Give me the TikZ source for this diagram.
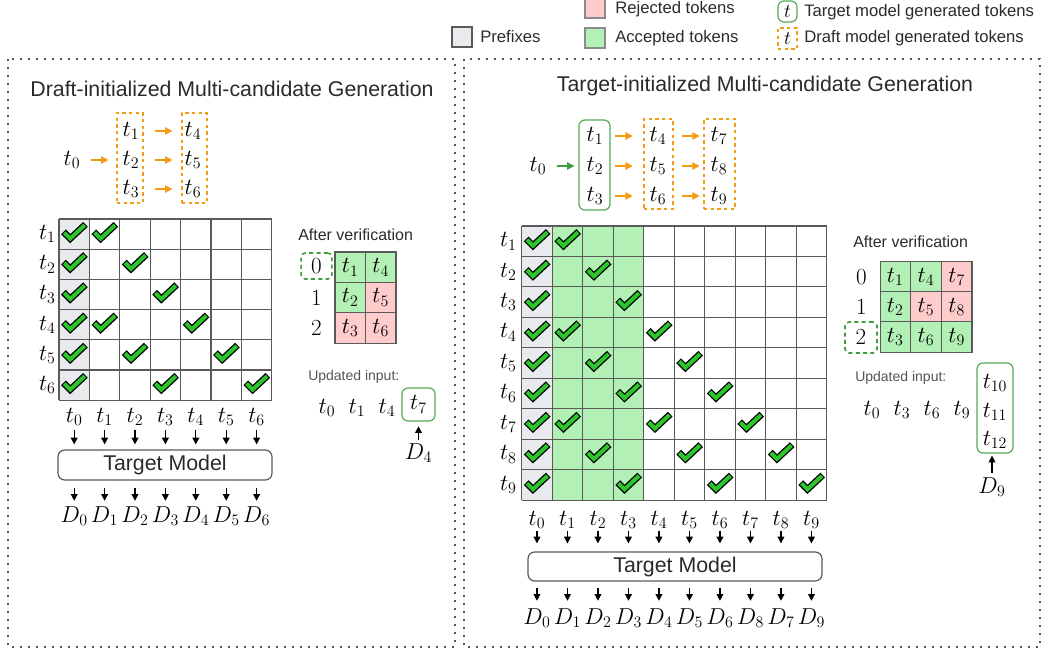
\documentclass[tikz,border=0pt]{standalone}
\usepackage[no-math]{fontspec}
\setmainfont{Liberation Sans}
\usetikzlibrary{arrows.meta,calc}
\definecolor{pref}{HTML}{E8EAED}
\definecolor{accg}{HTML}{B3F0B6}
\definecolor{rejp}{HTML}{FFCCCC}
\definecolor{chkg}{HTML}{2CC62C}
\definecolor{gline}{HTML}{5A5A5A}
\definecolor{orng}{HTML}{F39C12}
\definecolor{gbord}{HTML}{55AA55}
\definecolor{dgreen}{HTML}{3C9E3C}
\definecolor{pgray}{HTML}{555555}
\definecolor{ttext}{HTML}{2A2A2A}
\definecolor{ltext}{HTML}{555555}
\newcommand\mathsz{\fontsize{18}{21}\selectfont}
\begin{document}
\begin{tikzpicture}[x=0.75pt,y=-0.75pt,
  tok/.style={font=\mathsz, inner sep=0pt},
  oarr/.style={draw=orng, line width=1.1pt, -{Triangle[length=5.5pt,width=5.5pt]}},
  garr/.style={draw=dgreen, line width=1.1pt, -{Triangle[length=5.5pt,width=5.5pt]}},
  barr/.style={draw=black, line width=1pt, -{Triangle[length=5pt,width=5pt]}},
  obox/.style={draw=orng, line width=1.1pt, dash pattern=on 2.5pt off 2.5pt, inner sep=0pt},
  gbox/.style={draw=gbord, line width=0.9pt, rounded corners=4.5pt, inner sep=0pt},
  dgbox/.style={draw=dgreen, line width=1.2pt, dash pattern=on 3pt off 2.5pt, rounded corners=3pt, inner sep=0pt},
  panel/.style={draw=pgray, line width=1.1pt, dash pattern=on 1.8pt off 4.2pt},
  tmbox/.style={draw=gline, line width=0.9pt, rounded corners=5pt, font=\fontsize{16}{19}\selectfont, text=ttext},
  ttl/.style={font=\fontsize{16}{19}\selectfont, text=ttext},
  lgtxt/.style={font=\fontsize{12.5}{15}\selectfont, text=ttext, anchor=west, inner sep=0pt},
  avtxt/.style={font=\fontsize{12}{14}\selectfont, text=ttext, anchor=west, inner sep=0pt},
  uptxt/.style={font=\fontsize{10.5}{13}\selectfont, text=ltext, anchor=west, inner sep=0pt},
  gl/.style={draw=gline, line width=0.8pt},
  cell/.style={draw=gline, line width=0.8pt, minimum width=22.9pt, minimum height=22.8pt, inner sep=0pt, font=\mathsz},
  chk/.pic={
    \draw[line width=5pt, black, line join=miter, shorten <=-0.8pt, shorten >=-0.8pt] (-10,-1.5) -- (-4,4.5) -- (10.5,-9);
    \draw[line width=3pt, chkg, line join=miter] (-10,-1.5) -- (-4,4.5) -- (10.5,-9);
  }]
\useasboundingbox (0,0) rectangle (1042,651);

% ---------- panels ----------
\draw[panel] (8,59) rectangle (455,647);
\draw[panel] (464,59) rectangle (1040,647);

% ---------- legend ----------
\node[draw=gline, fill=pref, line width=0.8pt, minimum size=15pt, inner sep=0pt] (lgP) at (462,37) {};
\node[lgtxt] (lgPt) at (480,37) {Prefixes};
\node[draw=gline!70, fill=rejp, line width=0.8pt, minimum size=15pt, inner sep=0pt] (lgR) at (595,8) {};
\node[lgtxt] (lgRt) at (615,9) {Rejected tokens};
\node[draw=gline!70, fill=accg, line width=0.8pt, minimum size=15pt, inner sep=0pt] (lgA) at (595,38) {};
\node[lgtxt] (lgAt) at (615,38) {Accepted tokens};
\node[gbox, minimum width=14.25pt, minimum height=15.75pt, font=\fontsize{14}{16}\selectfont] (lgT) at (787.5,11.5) {$t$};
\node[lgtxt] (lgTt) at (804,12) {Target model generated tokens};
\node[obox, minimum width=14.25pt, minimum height=15.75pt, font=\fontsize{14}{16}\selectfont] (lgD) at (787.5,38.5) {$t$};
\node[lgtxt] (lgDt) at (804,38) {Draft model generated tokens};

% ---------- left panel ----------
\node[ttl] (titleL) at (232,89) {Draft-initialized Multi-candidate Generation};

\node[tok] (a0) at (72,160) {$t_0$};
\node[obox, minimum width=19.5pt, minimum height=67.5pt] (ob1) at (130,158) {};
\node[obox, minimum width=18.75pt, minimum height=67.5pt] (ob2) at (194.5,158) {};
\node[tok] (a1) at (131,131) {$t_1$};
\node[tok] (a2) at (131,160) {$t_2$};
\node[tok] (a3) at (131,189) {$t_3$};
\node[tok] (a4) at (193,131) {$t_4$};
\node[tok] (a5) at (193,160) {$t_5$};
\node[tok] (a6) at (193,189) {$t_6$};
\draw[oarr, shorten <=8pt, shorten >=10.5pt] (a0) -- (a2);
\draw[oarr, shorten <=11.5pt, shorten >=9pt] (a1) -- (a4);
\draw[oarr, shorten <=11.5pt, shorten >=9pt] (a2) -- (a5);
\draw[oarr, shorten <=11.5pt, shorten >=9pt] (a3) -- (a6);

% grid left
\fill[pref] (59,219) rectangle (89.4,400.2);
\foreach \i in {0,...,7} \draw[gl] ({59+\i*30.4},219) -- ({59+\i*30.4},400.2);
\foreach \j in {0,...,6} \draw[gl] (59,{219+\j*30.2}) -- (271.8,{219+\j*30.2});
\foreach \r/\c in {1/0,1/1,2/0,2/2,3/0,3/3,4/0,4/1,4/4,5/0,5/2,5/5,6/0,6/3,6/6}
  \pic at ({59+(\c+0.5)*30.4},{219+(\r-0.5)*30.2}) {chk};
\foreach \r in {1,...,6}
  \node[tok, anchor=east] (lrL\r) at (56,{219+(\r-0.5)*30.2}) {$t_{\r}$};

\node[tmbox, minimum width=160.5pt, minimum height=22.5pt] (tmL) at (165,465) {Target Model};
\foreach \i in {0,...,6} {
  \node[tok] (lcL\i) at ({59+(\i+0.5)*30.4},417) {$t_{\i}$};
  \node[tok] (dL\i) at ({59+(\i+0.5)*30.4},516) {$D_{\i}$};
  \draw[barr, shorten <=3pt, shorten >=3.75pt] (lcL\i) -- (lcL\i |- tmL.north);
  \draw[barr, shorten <=5.25pt, shorten >=4pt] (dL\i |- tmL.south) -- (dL\i);
}

% after verification left
\node[avtxt] (avL) at (298,235) {After verification};
\node[cell, fill=accg] (vL11) at (350.25,267.2) {$t_1$};
\node[cell, fill=accg] (vL12) at (380.75,267.2) {$t_4$};
\node[cell, fill=accg] (vL21) at (350.25,297.6) {$t_2$};
\node[cell, fill=rejp] (vL22) at (380.75,297.6) {$t_5$};
\node[cell, fill=rejp] (vL31) at (350.25,328) {$t_3$};
\node[cell, fill=rejp] (vL32) at (380.75,328) {$t_6$};
\node[dgbox, minimum width=23pt, minimum height=19.5pt, font=\mathsz] (rL0) at (316.5,266) {$0$};
\node[tok] (rL1) at (316.5,298) {$1$};
\node[tok] (rL2) at (316.5,328) {$2$};

\node[uptxt] (upL) at (308,377) {Updated input:};
\node[tok] (uL0) at (327,408) {$t_0$};
\node[tok] (uL1) at (357,408) {$t_1$};
\node[tok] (uL4) at (387,408) {$t_4$};
\node[gbox, minimum width=24.75pt, minimum height=24.75pt, font=\mathsz] (uL7) at (418.5,404.5) {$t_7$};
\node[tok] (DL4) at (418.5,453) {$D_4$};
\draw[barr, shorten <=2pt, shorten >=3.5pt] (DL4) -- (DL4 |- uL7.south);

% ---------- right panel ----------
\node[ttl] (titleR) at (765,86) {Target-initialized Multi-candidate Generation};

\node[tok] (b0) at (538,166) {$t_0$};
\node[gbox, minimum width=23.25pt, minimum height=67.5pt] (gb1) at (594.5,165) {};
\node[obox, minimum width=21.75pt, minimum height=67.5pt] (ob3) at (658.5,164) {};
\node[obox, minimum width=23.25pt, minimum height=67.5pt] (ob4) at (719.5,164) {};
\node[tok] (b1) at (595,136) {$t_1$};
\node[tok] (b2) at (595,166) {$t_2$};
\node[tok] (b3) at (595,196) {$t_3$};
\node[tok] (b4) at (658,136) {$t_4$};
\node[tok] (b5) at (658,166) {$t_5$};
\node[tok] (b6) at (658,196) {$t_6$};
\node[tok] (b7) at (719,136) {$t_7$};
\node[tok] (b8) at (719,166) {$t_8$};
\node[tok] (b9) at (719,196) {$t_9$};
\draw[garr, shorten <=7.5pt, shorten >=9pt] (b0) -- (b2);
\draw[oarr, shorten <=8.5pt, shorten >=12.5pt] (b1) -- (b4);
\draw[oarr, shorten <=8.5pt, shorten >=12.5pt] (b2) -- (b5);
\draw[oarr, shorten <=8.5pt, shorten >=12.5pt] (b3) -- (b6);
\draw[oarr, shorten <=11.5pt, shorten >=8pt] (b4) -- (b7);
\draw[oarr, shorten <=11.5pt, shorten >=8pt] (b5) -- (b8);
\draw[oarr, shorten <=11.5pt, shorten >=8pt] (b6) -- (b9);

% grid right
\fill[pref] (521.7,226) rectangle (552.2,500);
\fill[accg] (552.2,226) rectangle (643.7,500);
\foreach \i in {0,...,10} \draw[gl] ({521.7+\i*30.5},226) -- ({521.7+\i*30.5},500);
\foreach \j in {0,...,9} \draw[gl] (521.7,{226+\j*30.45}) -- (826.7,{226+\j*30.45});
\foreach \r/\c in {1/0,1/1,2/0,2/2,3/0,3/3,4/0,4/1,4/4,5/0,5/2,5/5,6/0,6/3,6/6,7/0,7/1,7/4,7/7,8/0,8/2,8/5,8/8,9/0,9/3,9/6,9/9}
  \pic at ({521.7+(\c+0.5)*30.5},{226+(\r-0.5)*30.45}) {chk};
\foreach \r in {1,...,9}
  \node[tok, anchor=east] (lrR\r) at (517,{226+(\r-0.5)*30.45}) {$t_{\r}$};

\node[tmbox, minimum width=220.5pt, minimum height=21.75pt] (tmR) at (675,566.5) {Target Model};
\foreach \i/\d in {0/0,1/1,2/2,3/3,4/4,5/5,6/6,7/8,8/7,9/9} {
  \node[tok] (lcR\i) at ({521.7+(\i+0.5)*30.5},520) {$t_{\i}$};
  \node[tok] (dR\i) at ({521.7+(\i+0.5)*30.5},618) {$D_{\d}$};
  \draw[barr, shorten <=1.2pt, shorten >=6pt] (lcR\i) -- (lcR\i |- tmR.north);
  \draw[barr, shorten <=4.5pt, shorten >=5.5pt] (dR\i |- tmR.south) -- (dR\i);
}

% after verification right
\node[avtxt] (avR) at (853,242) {After verification};
\node[cell, fill=accg] (vR11) at (895.3,277) {$t_1$};
\node[cell, fill=accg] (vR12) at (926,277) {$t_4$};
\node[cell, fill=rejp] (vR13) at (956.7,277) {$t_7$};
\node[cell, fill=accg] (vR21) at (895.3,307) {$t_2$};
\node[cell, fill=rejp] (vR22) at (926,307) {$t_5$};
\node[cell, fill=rejp] (vR23) at (956.7,307) {$t_8$};
\node[cell, fill=accg] (vR31) at (895.3,337) {$t_3$};
\node[cell, fill=accg] (vR32) at (926,337) {$t_6$};
\node[cell, fill=accg] (vR33) at (956.7,337) {$t_9$};
\node[tok] (rR0) at (861.5,277) {$0$};
\node[tok] (rR1) at (861.5,307) {$1$};
\node[dgbox, minimum width=24pt, minimum height=23.25pt, font=\mathsz] (rR2) at (861,337.5) {$2$};

\node[uptxt] (upR) at (855,378) {Updated input:};
\node[tok] (uR0) at (872,410) {$t_0$};
\node[tok] (uR3) at (902,410) {$t_3$};
\node[tok] (uR6) at (932,410) {$t_6$};
\node[tok] (uR9) at (962,410) {$t_9$};
\node[gbox, minimum width=27pt, minimum height=67.5pt] (ubx) at (995,408) {};
\node[tok] (u10) at (995,383) {$t_{10}$};
\node[tok] (u11) at (995,412) {$t_{11}$};
\node[tok] (u12) at (995,440) {$t_{12}$};
\node[tok] (DR9) at (992,487) {$D_9$};
\draw[barr, shorten <=3pt, shorten >=1.5pt] (DR9) -- (DR9 |- ubx.south);

\end{tikzpicture}
\end{document}
